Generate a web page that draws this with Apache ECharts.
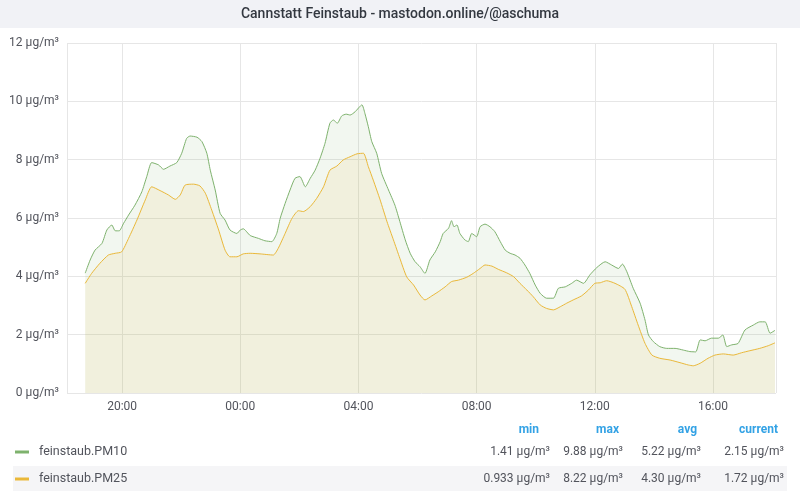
<!DOCTYPE html>
<html>
<head>
<meta charset="utf-8">
<script src="https://cdn.jsdelivr.net/npm/echarts@6/dist/echarts.min.js"></script>
<style>
  html, body { margin: 0; padding: 0; background: #fff; }
  #chart { width: 800px; height: 500px; }
</style>
</head>
<body>
<div id="chart"></div>
<script>
// readings taken off the panel, local time (first day evening -> next day evening)
const pm10Times = ['18:45','18:55','19:05','19:19','19:29','19:39','19:46','19:54','20:03','20:13','20:26','20:40','20:50','21:00','21:14','21:24','21:37','21:51','22:01','22:11','22:18','22:32','22:42','22:52','22:59','23:09','23:19','23:29','23:39','23:53','00:00','00:06','00:20','00:37','00:50','01:04','01:14','01:21','01:31','01:41','01:51','02:01','02:12','02:22','02:32','02:42','02:52','03:02','03:09','03:17','03:26','03:35','03:43','03:53','04:07','04:13','04:20','04:27','04:37','04:47','05:01','05:14','05:24','05:35','05:45','05:55','06:05','06:15','06:25','06:36','06:46','06:52','07:03','07:09','07:14','07:20','07:26','07:36','07:43','07:50','08:00','08:07','08:17','08:27','08:37','08:48','08:58','09:08','09:18','09:28','09:38','09:48','09:59','10:09','10:22','10:36','10:46','11:00','11:13','11:23','11:37','11:50','12:04','12:21','12:34','12:48','12:56','13:05','13:18','13:32','13:42','13:49','13:59','14:12','14:26','14:43','15:00','15:13','15:25','15:34','15:44','15:57','16:11','16:20','16:28','16:38','16:51','17:05','17:22','17:35','17:46','17:56','18:06'];
const pm10Values = [4.11,4.56,4.90,5.13,5.59,5.76,5.56,5.56,5.82,6.10,6.44,6.90,7.42,7.90,7.82,7.67,7.78,7.90,8.22,8.73,8.81,8.77,8.62,8.22,7.64,6.96,6.16,5.93,5.59,5.47,5.59,5.63,5.40,5.30,5.22,5.19,5.47,5.99,6.50,6.96,7.36,7.42,7.07,7.36,7.64,8.05,8.56,9.25,9.36,9.25,9.50,9.56,9.53,9.64,9.88,9.59,9.13,8.62,8.22,7.53,6.96,6.44,5.88,5.25,4.79,4.50,4.33,4.10,4.56,4.84,5.19,5.47,5.65,5.91,5.70,5.76,5.47,5.25,5.19,5.47,5.36,5.70,5.79,5.70,5.53,5.19,4.90,4.79,4.73,4.62,4.39,4.10,3.70,3.42,3.25,3.25,3.59,3.64,3.76,3.87,3.76,4.05,4.30,4.50,4.39,4.27,4.42,4.16,3.59,3.08,2.50,1.99,1.76,1.59,1.53,1.53,1.47,1.42,1.41,1.82,1.79,1.88,1.88,1.99,1.59,1.65,1.70,2.16,2.33,2.44,2.44,2.05,2.15];

const pm25Times = ['18:45','18:58','19:15','19:32','19:46','19:59','20:13','20:30','20:47','21:00','21:17','21:34','21:48','21:58','22:08','22:25','22:38','22:49','23:02','23:16','23:29','23:39','23:53','00:06','00:20','00:40','01:07','01:17','01:31','01:45','01:58','02:08','02:22','02:35','02:49','03:02','03:16','03:29','03:43','03:57','04:10','04:20','04:30','04:44','04:58','05:11','05:24','05:38','05:52','06:05','06:15','06:29','06:42','06:56','07:09','07:23','07:40','07:53','08:07','08:17','08:31','08:44','09:01','09:15','09:28','09:42','09:55','10:09','10:22','10:36','10:50','11:03','11:16','11:33','11:47','12:00','12:11','12:24','12:41','13:01','13:15','13:28','13:42','13:56','14:12','14:33','14:53','15:10','15:20','15:34','15:50','16:04','16:21','16:41','16:58','17:15','17:35','17:52','18:06'];
const pm25Values = [3.76,4.10,4.45,4.73,4.79,4.84,5.30,5.93,6.62,7.07,6.94,6.79,6.64,6.79,7.13,7.16,7.10,6.85,6.27,5.59,4.90,4.67,4.67,4.77,4.79,4.77,4.73,4.96,5.47,5.99,6.25,6.22,6.39,6.67,7.07,7.64,7.78,7.99,8.10,8.20,8.22,7.76,7.30,6.62,5.87,5.25,4.62,3.98,3.70,3.36,3.19,3.33,3.47,3.64,3.82,3.87,3.97,4.10,4.27,4.39,4.35,4.24,4.12,3.99,3.76,3.53,3.30,3.02,2.90,2.85,2.96,3.08,3.19,3.33,3.53,3.76,3.78,3.85,3.76,3.56,2.96,2.33,1.70,1.30,1.19,1.13,1.04,0.96,0.933,1.02,1.19,1.30,1.34,1.30,1.38,1.45,1.53,1.62,1.72];

const seriesNames = ['feinstaub.PM10', 'feinstaub.PM25'];
const statHeaders = ['min', 'max', 'avg', 'current'];
const pm10Stats = ['1.41', '9.88', '5.22', '2.15'];
const pm25Stats = ['0.933', '8.22', '4.30', '1.72'];
const yTicks = [0, 2, 4, 6, 8, 10, 12];

const UNIT = ' µg/m³';
const COLORS = ['#7eb26d', '#eab839'];
const TEXT = '#52545c';
const FONT = 'Roboto, "Noto Sans", sans-serif';

function toStamps(list) {
  let day = 0;
  let prev = -1;
  return list.map(s => {
    const [h, m] = s.split(':').map(Number);
    const mins = h * 60 + m;
    if (mins < prev) day++;
    prev = mins;
    return new Date(2023, 0, 1 + day, h, m).getTime();
  });
}

function pair(times, values) {
  const stamps = toStamps(times);
  return stamps.map((t, i) => [t, values[i]]);
}

const pad = n => (n < 10 ? '0' + n : '' + n);

const chart = echarts.init(document.getElementById('chart'), null, { renderer: 'canvas' });

// legend table (bottom), drawn as plain text
const colRight = [550, 623, 701, 784];
const headRight = [539, 619, 697, 778];
const graphics = [
  { type: 'rect', left: 0, top: 0, shape: { width: 800, height: 28 }, style: { fill: '#f1f2f6' }, z: 0 },
  {
    type: 'text', x: 400, y: 14,
    style: { text: 'Cannstatt Feinstaub - mastodon.online/@aschuma', font: '500 14px ' + FONT, fill: '#333840', align: 'center', verticalAlign: 'middle' }
  },
  { type: 'rect', shape: { x: 13, y: 466, width: 774, height: 25 }, style: { fill: '#f5f5f7' }, z: 0 }
];
statHeaders.forEach((h, i) => {
  graphics.push({
    type: 'text', x: headRight[i], y: 430,
    style: { text: h, font: 'bold 12px ' + FONT, fill: '#33a2e5', align: 'right', verticalAlign: 'middle' }
  });
});
[pm10Stats, pm25Stats].forEach((stats, r) => {
  const y = 452 + r * 27;
  graphics.push({ type: 'rect', shape: { x: 15, y: y - 1.5, width: 14, height: 3 }, style: { fill: COLORS[r] } });
  graphics.push({
    type: 'text', x: 39, y: y,
    style: { text: seriesNames[r], font: '12.5px ' + FONT, fill: TEXT, align: 'left', verticalAlign: 'middle' }
  });
  stats.forEach((v, i) => {
    graphics.push({
      type: 'text', x: colRight[i], y: y,
      style: { text: v + UNIT, font: '12px ' + FONT, fill: TEXT, align: 'right', verticalAlign: 'middle' }
    });
  });
});

chart.setOption({
  animation: false,
  backgroundColor: '#ffffff',
  textStyle: { fontFamily: FONT },
  grid: { left: 67, right: 24, top: 43, bottom: 107, containLabel: false },
  xAxis: {
    type: 'time',
    min: new Date(2023, 0, 1, 18, 8).getTime(),
    max: new Date(2023, 0, 2, 18, 8).getTime(),
    minInterval: 4 * 3600 * 1000,
    maxInterval: 4 * 3600 * 1000,
    axisLine: { show: false },
    axisTick: { show: false },
    splitLine: { show: true, lineStyle: { color: '#e6e6e6', width: 1 } },
    axisLabel: {
      color: TEXT, fontSize: 12, margin: 8, hideOverlap: false,
      showMinLabel: false, showMaxLabel: false,
      formatter: v => { const d = new Date(v); return pad(d.getHours()) + ':' + pad(d.getMinutes()); }
    }
  },
  yAxis: {
    type: 'value',
    min: yTicks[0],
    max: yTicks[yTicks.length - 1],
    interval: 2,
    axisLine: { show: false },
    axisTick: { show: false },
    splitLine: { lineStyle: { color: '#e6e6e6', width: 1 } },
    axisLabel: { color: TEXT, fontSize: 12, margin: 8, formatter: v => v + UNIT }
  },
  series: [
    {
      name: seriesNames[0], type: 'line', data: pair(pm10Times, pm10Values),
      showSymbol: false, smooth: 0.2,
      lineStyle: { color: COLORS[0], width: 1 },
      areaStyle: { color: COLORS[0], opacity: 0.1 },
      z: 2
    },
    {
      name: seriesNames[1], type: 'line', data: pair(pm25Times, pm25Values),
      showSymbol: false, smooth: 0.2,
      lineStyle: { color: COLORS[1], width: 1 },
      areaStyle: { color: COLORS[1], opacity: 0.1 },
      z: 3
    }
  ],
  graphic: graphics
});
</script>
</body>
</html>
